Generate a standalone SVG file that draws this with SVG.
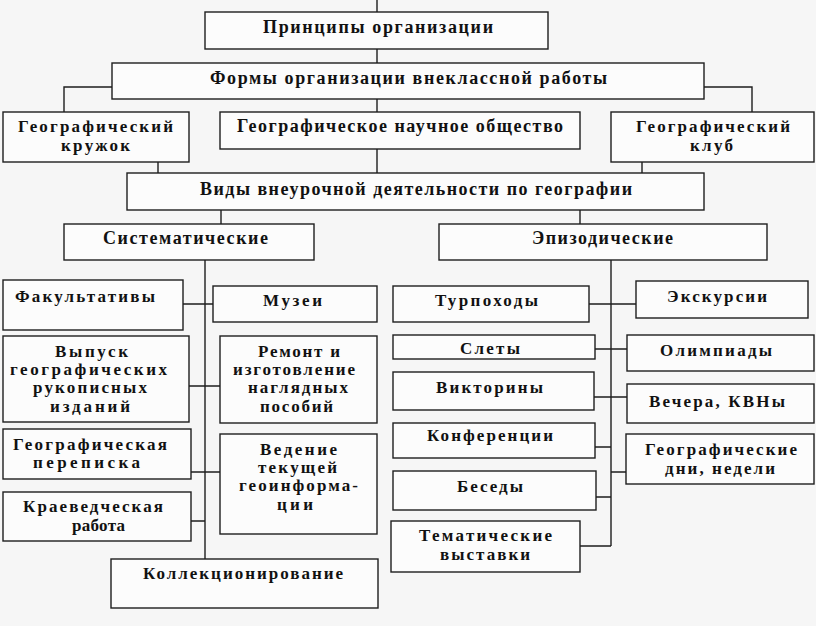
<svg xmlns="http://www.w3.org/2000/svg" width="816" height="626" viewBox="0 0 816 626">
<style>
.b{fill:#fcfcfc;stroke:#1e1e1e;stroke-width:1.4}
.c{fill:none;stroke:#1e1e1e;stroke-width:1.4}
text{font-family:"Liberation Serif","Times New Roman",serif;font-weight:bold;font-size:17px;fill:#111}
.t{font-size:18px}
</style>
<rect width="816" height="626" fill="#f6f6f6"/>
<g id="connectors" class="c">
<path d="M377,0V12M377,49V63M377,99V112M112,87H64V112M704,87H752V112M158,162V173M377,149V173M642,162V173M221,210V224M580,210V224"/>
<path d="M205,260V559M183,304H213M189,386H220M191,472H220M191,521H205"/>
<path d="M611,250V546M589,304H636M595,349H627M594,397H627M595,447H611M611,472H626M596,497H611M580,546H611"/>
</g>
<g id="n1"><rect class="b" x="205" y="12" width="343" height="37"/><text class="t" x="263" y="33" textLength="230" lengthAdjust="spacing">Принципы организации</text></g>
<g id="n2"><rect class="b" x="112" y="63" width="592" height="36"/><text class="t" x="210" y="84" textLength="397" lengthAdjust="spacing">Формы организации внеклассной работы</text></g>
<g id="n3"><rect class="b" x="3" y="112" width="186" height="50"/><text x="18" y="132" textLength="155" lengthAdjust="spacing">Географический</text><text x="61" y="151" textLength="69" lengthAdjust="spacing">кружок</text></g>
<g id="n4"><rect class="b" x="220" y="112" width="360" height="37"/><text class="t" x="237" y="132" textLength="326" lengthAdjust="spacing">Географическое научное общество</text></g>
<g id="n5"><rect class="b" x="611" y="112" width="203" height="50"/><text x="636" y="132" textLength="154" lengthAdjust="spacing">Географический</text><text x="690" y="151" textLength="43" lengthAdjust="spacing">клуб</text></g>
<g id="n6"><rect class="b" x="127" y="173" width="577" height="37"/><text class="t" x="200" y="195" textLength="432" lengthAdjust="spacing">Виды внеурочной деятельности по географии</text></g>
<g id="n7"><rect class="b" x="64" y="224" width="250" height="36"/><text class="t" x="103" y="244" textLength="165" lengthAdjust="spacing">Систематические</text></g>
<g id="n8"><rect class="b" x="439" y="224" width="328" height="36"/><text class="t" x="532" y="244" textLength="141" lengthAdjust="spacing">Эпизодические</text></g>
<g id="n9"><rect class="b" x="3" y="280" width="180" height="50"/><text x="15" y="302" textLength="140" lengthAdjust="spacing">Факультативы</text></g>
<g id="n10"><rect class="b" x="213" y="286" width="164" height="36"/><text x="263" y="306" textLength="59" lengthAdjust="spacing">Музеи</text></g>
<g id="n11"><rect class="b" x="3" y="336" width="186" height="86"/><text x="55" y="357" textLength="73" lengthAdjust="spacing">Выпуск</text><text x="10" y="375" textLength="157" lengthAdjust="spacing">географических</text><text x="33" y="393" textLength="114" lengthAdjust="spacing">рукописных</text><text x="50" y="412" textLength="80" lengthAdjust="spacing">изданий</text></g>
<g id="n12"><rect class="b" x="220" y="336" width="157" height="87"/><text x="258" y="357" textLength="82" lengthAdjust="spacing">Ремонт и</text><text x="233" y="375" textLength="122" lengthAdjust="spacing">изготовление</text><text x="248" y="393" textLength="100" lengthAdjust="spacing">наглядных</text><text x="260" y="412" textLength="73" lengthAdjust="spacing">пособий</text></g>
<g id="n13"><rect class="b" x="3" y="429" width="188" height="50"/><text x="13" y="450" textLength="154" lengthAdjust="spacing">Географическая</text><text x="33" y="468" textLength="107" lengthAdjust="spacing">переписка</text></g>
<g id="n14"><rect class="b" x="220" y="434" width="157" height="100"/><text x="260" y="455" textLength="77" lengthAdjust="spacing">Ведение</text><text x="258" y="473" textLength="79" lengthAdjust="spacing">текущей</text><text x="239" y="491" textLength="119" lengthAdjust="spacing">геоинформа-</text><text x="277" y="510" textLength="36" lengthAdjust="spacing">ции</text></g>
<g id="n15"><rect class="b" x="3" y="492" width="188" height="49"/><text x="23" y="512" textLength="140" lengthAdjust="spacing">Краеведческая</text><text x="72" y="531" textLength="53" lengthAdjust="spacing">работа</text></g>
<g id="n16"><rect class="b" x="111" y="559" width="267" height="49"/><text x="143" y="579" textLength="200" lengthAdjust="spacing">Коллекционирование</text></g>
<g id="n17"><rect class="b" x="393" y="286" width="196" height="36"/><text x="435" y="306" textLength="103" lengthAdjust="spacing">Турпоходы</text></g>
<g id="n18"><rect class="b" x="636" y="281" width="172" height="37"/><text x="667" y="302" textLength="100" lengthAdjust="spacing">Экскурсии</text></g>
<g id="n19"><rect class="b" x="393" y="335" width="202" height="24"/><text x="460" y="354" textLength="60" lengthAdjust="spacing">Слеты</text></g>
<g id="n20"><rect class="b" x="627" y="335" width="187" height="36"/><text x="660" y="356" textLength="112" lengthAdjust="spacing">Олимпиады</text></g>
<g id="n21"><rect class="b" x="393" y="372" width="201" height="38"/><text x="436" y="393" textLength="107" lengthAdjust="spacing">Викторины</text></g>
<g id="n22"><rect class="b" x="627" y="384" width="187" height="39"/><text x="649" y="407" textLength="136" lengthAdjust="spacing">Вечера, КВНы</text></g>
<g id="n23"><rect class="b" x="393" y="423" width="202" height="35"/><text x="427" y="441" textLength="126" lengthAdjust="spacing">Конференции</text></g>
<g id="n24"><rect class="b" x="626" y="434" width="188" height="50"/><text x="645" y="455" textLength="152" lengthAdjust="spacing">Географические</text><text x="665" y="474" textLength="110" lengthAdjust="spacing">дни, недели</text></g>
<g id="n25"><rect class="b" x="393" y="471" width="203" height="39"/><text x="457" y="492" textLength="66" lengthAdjust="spacing">Беседы</text></g>
<g id="n26"><rect class="b" x="391" y="521" width="189" height="51"/><text x="419" y="541" textLength="133" lengthAdjust="spacing">Тематические</text><text x="440" y="560" textLength="90" lengthAdjust="spacing">выставки</text></g>
</svg>
